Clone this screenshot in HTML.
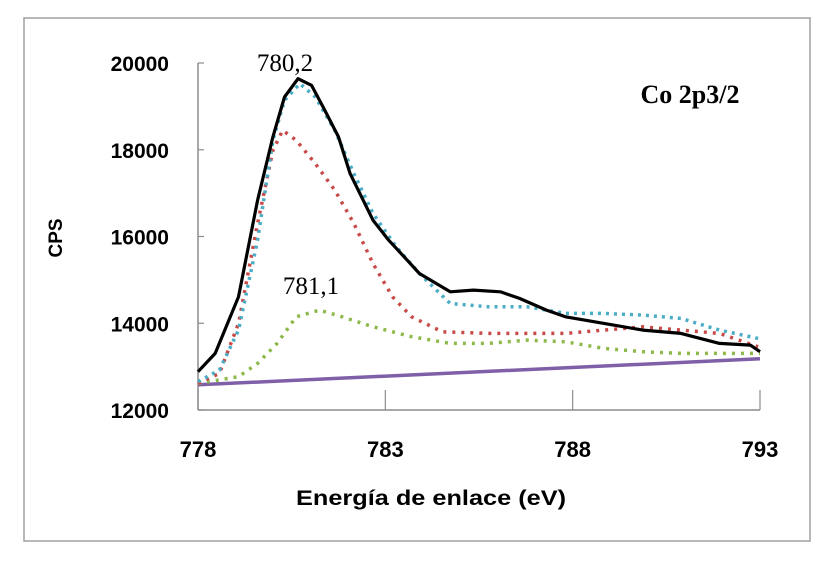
<!DOCTYPE html>
<html><head><meta charset="utf-8"><style>
body{margin:0;background:#fff;}
svg{display:block;}
</style></head><body>
<svg id="chart" width="830" height="567" xmlns="http://www.w3.org/2000/svg">
<rect x="24" y="18" width="786" height="523" fill="#fff" stroke="#a0a0a0" stroke-width="1.5"/>
<g id="axes"></g>
<g id="series"></g>
<text x="285" y="71" font-family="Liberation Serif, serif" font-size="25" text-anchor="middle">780,2</text>
<text x="311" y="294" font-family="Liberation Serif, serif" font-size="25" text-anchor="middle">781,1</text>
<text x="690" y="103" font-family="Liberation Serif, serif" font-size="26" font-weight="bold" text-anchor="middle">Co 2p3/2</text>
<text x="431" y="505" font-family="Liberation Sans, sans-serif" font-size="21" font-weight="bold" text-anchor="middle" textLength="270" lengthAdjust="spacingAndGlyphs">Energía de enlace (eV)</text>
<text transform="translate(62,238) rotate(-90)" font-family="Liberation Sans, sans-serif" font-size="19" font-weight="bold" text-anchor="middle">CPS</text>
</svg>
<script>
const xTicks=[778,783,788,793];
const yTicks=[12000,14000,16000,18000,20000];
const blackX=[778,778.46,779.08,779.59,780,780.31,780.67,781.03,781.34,781.75,782.06,782.67,783.09,783.5,783.91,784.73,785.35,786.07,786.58,787.3,787.81,788.84,789.87,790.89,791.92,792.74,793];
const blackY=[12883,13305,14610,16837,18296,19217,19639,19485,18986,18296,17451,16376,15915,15531,15147,14725,14764,14725,14572,14303,14149,13996,13842,13765,13535,13497,13343];
const cyanX=[778,778.57,779.08,779.59,780,780.31,780.72,781.13,781.65,782.16,782.67,783.29,783.91,784.73,785.76,786.78,787.81,788.84,789.87,790.89,791.92,792.95];
const cyanY=[12652,12921,13842,15915,18219,19140,19524,19217,18449,17451,16530,15762,15147,14456,14380,14380,14226,14226,14188,14111,13842,13650];
const redX=[778,778.57,779.08,779.59,780,780.26,780.62,781.13,781.65,782.16,782.67,783.19,783.7,784.52,785.76,786.78,787.81,788.84,789.87,790.89,791.92,792.95];
const redY=[12614,12844,13996,16299,17988,18449,18219,17681,17067,16299,15378,14610,14149,13804,13765,13765,13765,13842,13919,13842,13765,13458];
const greenX=[778,779.08,779.59,780.11,780.62,781.24,781.85,782.67,783.7,784.73,785.76,786.78,787.81,788.84,789.87,790.89,793];
const greenY=[12614,12767,13075,13535,14149,14303,14149,13919,13689,13535,13535,13612,13573,13420,13343,13305,13305];
const baseX=[778,793];
const baseY=[12580,13180];
const X0=198,X1=760,Y0=410,Y1=63;
const sx=v=>X0+(v-778)/(793-778)*(X1-X0);
const sy=v=>Y0-(v-12000)/(20000-12000)*(Y0-Y1);
const NS="http://www.w3.org/2000/svg";
const axes=document.getElementById('axes'),series=document.getElementById('series');
function mk(tag,attrs,parent){const e=document.createElementNS(NS,tag);for(const k in attrs)e.setAttribute(k,attrs[k]);parent.appendChild(e);return e;}
const yl=mk('line',{x1:X0,y1:Y1,x2:X0,y2:Y0,stroke:'#8c8c8c','stroke-width':1.5},axes);


const xl=mk('line',{x1:X0,y1:Y0,x2:X1,y2:Y0,stroke:'#8c8c8c','stroke-width':1.5},axes);


xTicks.forEach(t=>{
 const tk=mk('line',{x1:sx(t),y1:Y0-20,x2:sx(t),y2:Y0,stroke:'#8c8c8c','stroke-width':1.2},axes);
 
 
 const tx=mk('text',{x:sx(t),y:457,'font-family':'Liberation Sans, sans-serif','font-size':22,'font-weight':'bold','text-anchor':'middle'},axes);
 tx.textContent=t;
 
 
});
yTicks.forEach(t=>{
 const tk=mk('line',{x1:X0,y1:sy(t),x2:X0+6,y2:sy(t),stroke:'#8c8c8c','stroke-width':1.2},axes);
 
 
 const tx=mk('text',{x:169,y:sy(t)+8,'font-family':'Liberation Sans, sans-serif','font-size':21,'font-weight':'bold','text-anchor':'end'},axes);
 tx.textContent=t;
 
 
});
function path(xs,ys){return xs.map((x,i)=>(i?'L':'M')+sx(x).toFixed(1)+','+sy(ys[i]).toFixed(1)).join(' ');}
const pb=mk('path',{d:path(baseX,baseY),stroke:'#7f5fa8',fill:'none','stroke-width':3.5},series);


const pg=mk('path',{d:path(greenX,greenY),stroke:'#8db84a',fill:'none','stroke-width':3.5,'stroke-dasharray':'3 6','stroke-linejoin':'round'},series);


const pr=mk('path',{d:path(redX,redY),stroke:'#c84a48',fill:'none','stroke-width':3.5,'stroke-dasharray':'3 6','stroke-linejoin':'round'},series);


const pc=mk('path',{d:path(cyanX,cyanY),stroke:'#4bacc6',fill:'none','stroke-width':3.5,'stroke-dasharray':'3 5','stroke-linejoin':'round'},series);


const pk=mk('path',{d:path(blackX,blackY),stroke:'#000',fill:'none','stroke-width':3.2,'stroke-linejoin':'round'},series);


</script>
</body></html>
